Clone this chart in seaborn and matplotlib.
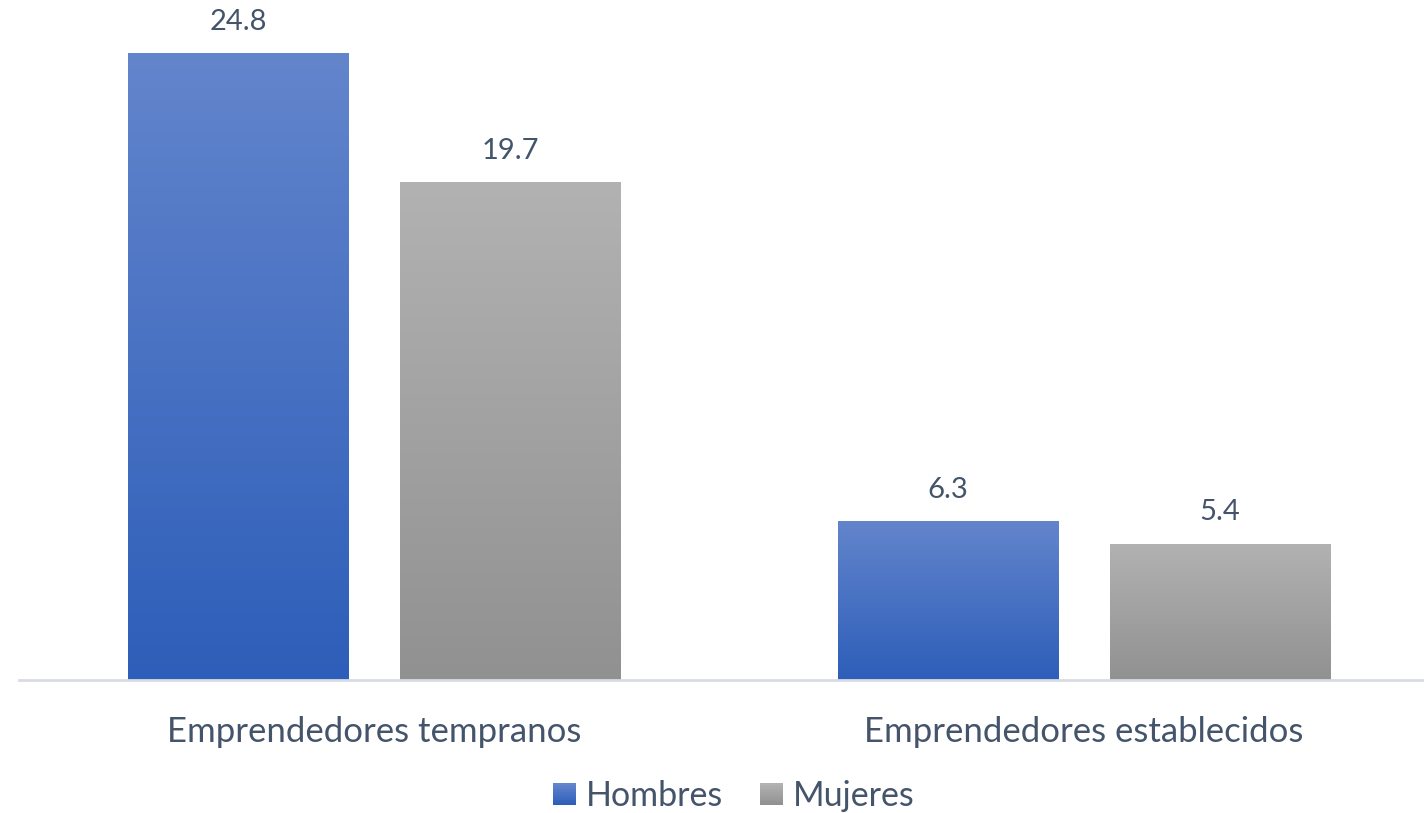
import numpy as np
import pandas as pd
import seaborn as sns
import matplotlib.pyplot as plt
from matplotlib.patches import Patch, Rectangle
from matplotlib.legend_handler import HandlerBase
from matplotlib.colors import LinearSegmentedColormap

categorias = ["Emprendedores tempranos", "Emprendedores establecidos"]
hombres = [24.8, 6.3]
mujeres = [19.7, 5.4]
series = ["Hombres", "Mujeres"]

df = pd.DataFrame({
    "categoria": categorias * 2,
    "sexo": ["Hombres"] * 2 + ["Mujeres"] * 2,
    "valor": hombres + mujeres,
})

# degradado de arriba (claro) hacia abajo (oscuro)
gradientes = {
    "Hombres": ("#6385CC", "#2D5EB9"),
    "Mujeres": ("#B2B2B2", "#919191"),
}
texto = "#44546A"


class HandlerDegradado(HandlerBase):
    # cuadrito de la leyenda con degradado vertical
    def create_artists(self, legend, orig_handle, xdescent, ydescent, width, height, fontsize, trans):
        cmap = orig_handle.cmap
        n = 12
        lado = min(width, height)
        x0 = -xdescent + (width - lado) / 2
        y0 = -ydescent + (height - lado) / 2
        arts = []
        for i in range(n):
            r = Rectangle((x0, y0 + lado * i / n), lado, lado / n + 0.3,
                          facecolor=cmap(i / (n - 1)), edgecolor="none", transform=trans)
            arts.append(r)
        return arts


sns.set_theme(style="white")
plt.rcParams["font.family"] = ["Lato", "DejaVu Sans"]

fig = plt.figure(figsize=(14.24, 8.13), dpi=100)
ax = fig.add_axes([19 / 1424, 133 / 813, 1 - 19 / 1424, (680 - 23) / 813])

sns.barplot(data=df, x="categoria", y="valor", hue="sexo", order=categorias,
            hue_order=series, palette=[gradientes[s][1] for s in series],
            width=0.766, gap=0.19, legend=False, ax=ax, saturation=1)

cmaps = {s: LinearSegmentedColormap.from_list(s, [gradientes[s][1], gradientes[s][0]]) for s in series}

# rellenar cada barra con un degradado vertical
for cont, s in zip(ax.containers, series):
    for bar in cont:
        x0, y0 = bar.get_x(), bar.get_y()
        w, h = bar.get_width(), bar.get_height()
        grad = np.linspace(0, 1, 256).reshape(-1, 1)
        im = ax.imshow(grad, cmap=cmaps[s], aspect="auto", origin="lower",
                       extent=[x0, x0 + w, y0, y0 + h], zorder=bar.get_zorder())
        im.set_clip_path(bar)
        bar.set_facecolor("none")
        bar.set_edgecolor("none")
        ax.text(x0 + w / 2, h + 0.72, f"{h:.1f}", ha="center", va="bottom",
                fontsize=21, color=texto, clip_on=False)

ax.set_xlim(-0.5, 1.479)
ax.set_ylim(0, 26)
ax.set_xlabel("")
ax.set_ylabel("")
ax.set_yticks([])
sns.despine(ax=ax, left=True)
ax.spines["bottom"].set_color("#D9DCE3")
ax.spines["bottom"].set_linewidth(2)
ax.tick_params(axis="x", length=0, pad=26, labelsize=25, labelcolor=texto)

handles = []
for s in series:
    p = Patch(facecolor=gradientes[s][1], label=s)
    p.cmap = cmaps[s]
    handles.append(p)
fig.legend(handles=handles, loc="center", bbox_to_anchor=(0.5154, 1 - 796 / 813),
           ncol=2, frameon=False, fontsize=24.5, labelcolor=texto,
           handler_map={Patch: HandlerDegradado()},
           handlelength=0.65, handleheight=0.65, handletextpad=0.3, columnspacing=1.1)

fig.savefig("out.png", dpi=100)
